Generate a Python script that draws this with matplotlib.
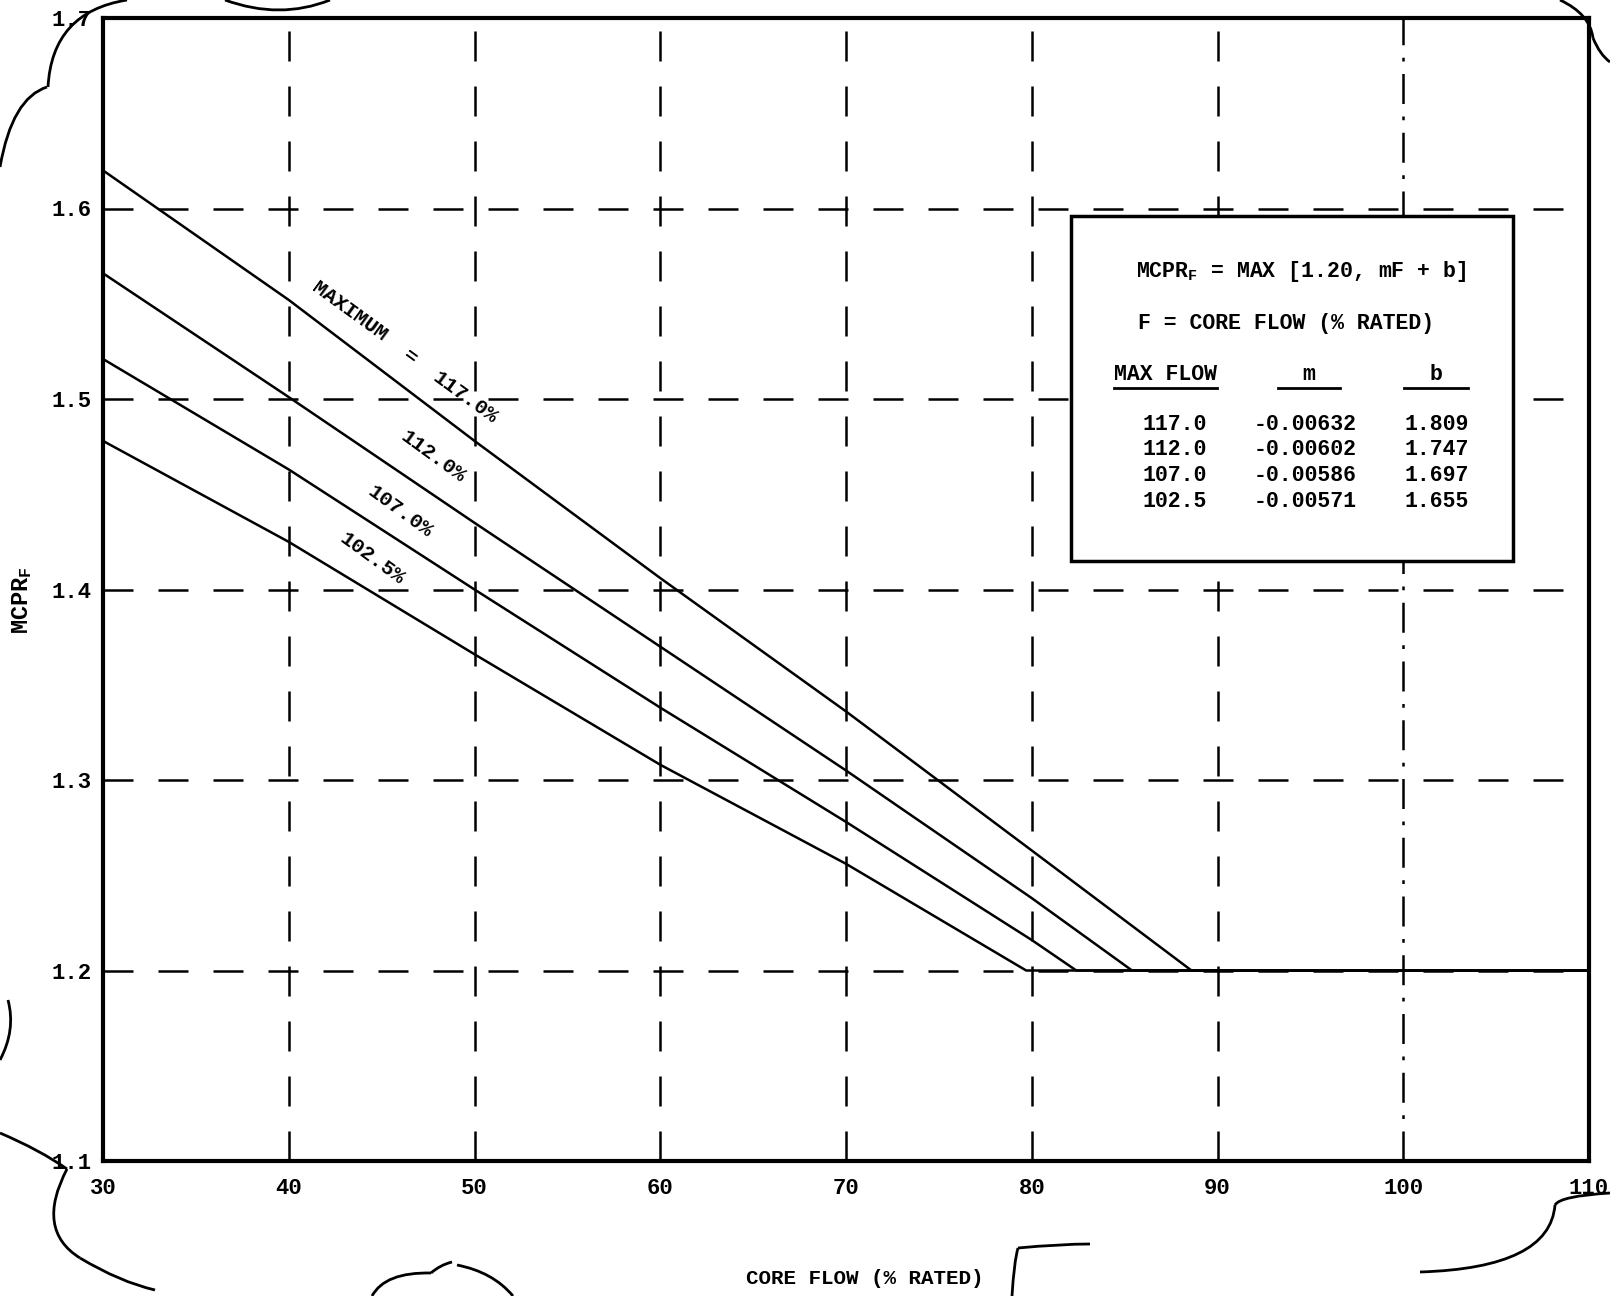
import matplotlib
matplotlib.use("Agg")
import matplotlib.pyplot as plt
from matplotlib.path import Path
from matplotlib.patches import PathPatch, Rectangle

plt.rcParams['font.family'] = ['Liberation Mono', 'DejaVu Sans Mono']
plt.rcParams['font.weight'] = 'bold'
plt.rcParams['mathtext.default'] = 'regular'

# curve points (core flow %, MCPR_F)
flow_117 = [30, 40, 50, 60, 70, 80, 88.6, 110]
mcpr_117 = [1.620, 1.552, 1.478, 1.406, 1.336, 1.263, 1.200, 1.200]
flow_112 = [30, 40, 50, 60, 70, 80, 85.4, 110]
mcpr_112 = [1.566, 1.501, 1.435, 1.370, 1.305, 1.238, 1.200, 1.200]
flow_107 = [30, 40, 50, 60, 70, 80, 82.4, 110]
mcpr_107 = [1.521, 1.463, 1.400, 1.338, 1.278, 1.216, 1.200, 1.200]
flow_1025 = [30, 40, 50, 60, 70, 79.7, 110]
mcpr_1025 = [1.478, 1.425, 1.366, 1.308, 1.256, 1.200, 1.200]

# equation table
max_flow = ['117.0', '112.0', '107.0', '102.5']
slope_m = ['-0.00632', '-0.00602', '-0.00586', '-0.00571']
offset_b = ['1.809', '1.747', '1.697', '1.655']

x_ticks = [30, 40, 50, 60, 70, 80, 90, 100, 110]
y_ticks = [1.1, 1.2, 1.3, 1.4, 1.5, 1.6, 1.7]

W, H = 1610, 1296
fig = plt.figure(figsize=(W / 100, H / 100), dpi=100)
ax = fig.add_axes([103 / W, 1 - 1161 / H, 1486 / W, 1143 / H])
ax.set_xlim(30, 110)
ax.set_ylim(1.1, 1.7)

# dashed grid
dash = (0, (12, 10))
for xv in x_ticks[1:-1]:
    ls = (0, (12, 5, 1.5, 5)) if xv == 100 else dash
    ax.axvline(xv, color='black', lw=1.8, ls=ls, zorder=1)
for yv in y_ticks[1:-1]:
    ax.axhline(yv, color='black', lw=1.8, ls=dash, zorder=1)

for fx_, my in [(flow_117, mcpr_117), (flow_112, mcpr_112),
                (flow_107, mcpr_107), (flow_1025, mcpr_1025)]:
    ax.plot(fx_, my, color='black', lw=1.8, zorder=3)

# curve labels, set just above each line
lab = dict(rotation=-36, rotation_mode='anchor', ha='center', va='center',
           fontsize=15, zorder=4)
ax.text(43.3, 1.546, 'MAXIMUM', **lab)
ax.text(46.5, 1.522, '=', fontsize=15, rotation=-36, rotation_mode='anchor',
        ha='center', va='center')
ax.text(49.5, 1.501, '117.0%', **lab)
ax.text(47.8, 1.470, '112.0%', **lab)
ax.text(46.0, 1.441, '107.0%', **lab)
ax.text(44.5, 1.416, '102.5%', **lab)

ax.set_xticks(x_ticks)
ax.set_yticks(y_ticks)
ax.set_xticklabels([str(v) for v in x_ticks])
ax.set_yticklabels(['%.1f' % v for v in y_ticks])
ax.tick_params(length=0, labelsize=16)
ax.tick_params(axis='x', pad=12)
ax.tick_params(axis='y', pad=8)
for s in ax.spines.values():
    s.set_linewidth(3)

fig.text(865 / W, 1 - 1278 / H, 'CORE FLOW (% RATED)', ha='center', va='center',
         fontsize=15)
fig.text(22 / W, 1 - 600 / H, 'MCPR$_F$', rotation=90, ha='center', va='center',
         fontsize=17)


def fx(px):
    return px / W


def fy(py):
    return 1 - py / H


# equation box
box = Rectangle((fx(1071), fy(561)), (1513 - 1071) / W, (561 - 216) / H,
                transform=fig.transFigure, facecolor='white', edgecolor='black',
                lw=2.5, zorder=5)
fig.patches.append(box)
tk = dict(fontsize=15.5, va='center', zorder=6)
fig.text(fx(1136), fy(272), 'MCPR$_F$ = MAX [1.20, mF + b]', ha='left', **tk)
fig.text(fx(1138), fy(323), 'F = CORE FLOW (% RATED)', ha='left', **tk)
fig.text(fx(1165), fy(374), 'MAX FLOW', ha='center', **tk)
fig.text(fx(1309), fy(374), 'm', ha='center', **tk)
fig.text(fx(1436), fy(374), 'b', ha='center', **tk)
for x0, x1 in [(1114, 1217), (1278, 1340), (1404, 1468)]:
    fig.add_artist(plt.Line2D([fx(x0), fx(x1)], [fy(388), fy(388)],
                              color='black', lw=2, zorder=6))
for i in range(len(max_flow)):
    yy = fy(424 + 25.7 * i)
    fig.text(fx(1175), yy, max_flow[i], ha='center', **tk)
    fig.text(fx(1305), yy, slope_m[i], ha='center', **tk)
    fig.text(fx(1437), yy, offset_b[i], ha='center', **tk)

# revision cloud outline, quadratic segments in pixel space
cloud = [
    [(0, 167), (12, 98), (47, 87)],
    [(48, 87), (52, 12), (127, 0)],
    [(225, 0), (280, 20), (330, 0)],
    [(1560, 0), (1590, 14), (1593, 38)],
    [(1593, 38), (1600, 55), (1610, 62)],
    [(1610, 1193), (1560, 1196), (1555, 1205)],
    [(1555, 1205), (1550, 1268), (1420, 1272)],
    [(0, 1133), (40, 1150), (67, 1169)],
    [(67, 1169), (35, 1230), (80, 1258)],
    [(80, 1258), (120, 1282), (155, 1290)],
    [(0, 1060), (16, 1030), (8, 1000)],
    [(372, 1296), (385, 1272), (431, 1273)],
    [(431, 1273), (440, 1265), (452, 1262)],
    [(457, 1265), (493, 1272), (513, 1296)],
    [(1012, 1296), (1014, 1262), (1018, 1248)],
    [(1018, 1248), (1060, 1244), (1090, 1244)],
]
for seg in cloud:
    verts = [(fx(p[0]), fy(p[1])) for p in seg]
    path = Path(verts, [Path.MOVETO, Path.CURVE3, Path.CURVE3])
    fig.patches.append(PathPatch(path, transform=fig.transFigure, fill=False,
                                 lw=2, edgecolor='black', zorder=7))

fig.savefig('out.png', dpi=100, facecolor='white')
